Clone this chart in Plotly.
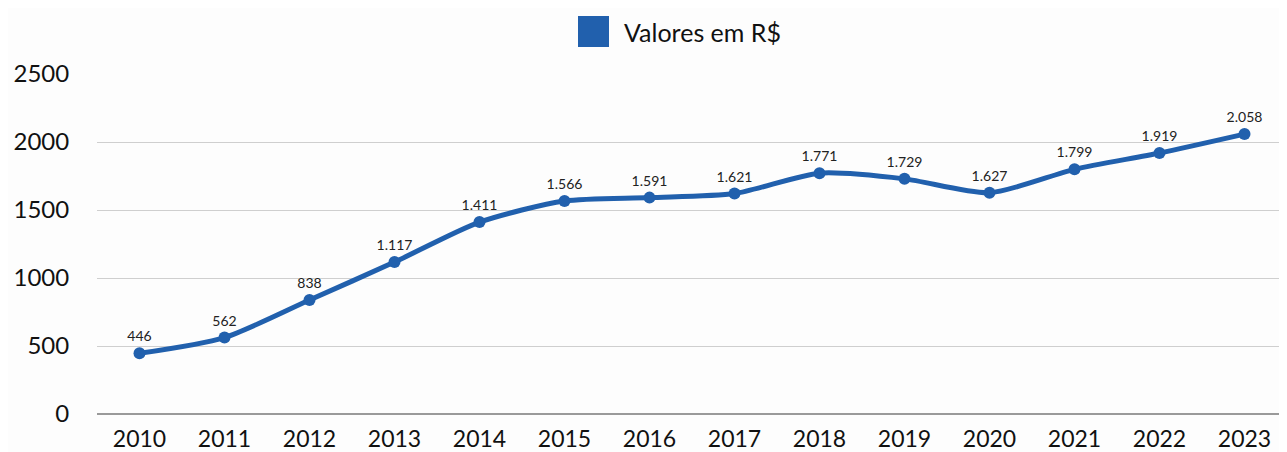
import plotly.graph_objects as go

# ─── Data ────────────────────────────────────────────────────────────
anos = [str(a) for a in range(2010, 2024)]
valores = [446, 562, 838, 1117, 1411, 1566, 1591, 1621, 1771, 1729, 1627, 1799, 1919, 2058]
y_ticks = [0, 500, 1000, 1500, 2000, 2500]

AZUL = "#2160AD"
FONT = "Lato"

rotulos = [f"{v:,}".replace(",", ".") for v in valores]

# page body has an 8px margin, so the figure is offset by (8, 8)
OFF = 8
W, H = 1287 - OFF, 452 - OFF
L, T, B = 97 - OFF, 74 - OFF, 38
PW, PH = W - L, H - T - B

fig = go.Figure()
fig.add_trace(
    go.Scatter(
        x=anos,
        y=valores,
        mode="lines+markers+text",
        name="Valores em R$",
        line=dict(color=AZUL, width=5, shape="spline", smoothing=0.7),
        marker=dict(size=12, color=AZUL),
        text=rotulos,
        textposition="top center",
        textfont=dict(size=14, color="#222222", family=FONT),
        cliponaxis=False,
        showlegend=False,
    )
)

# Legend swatch + label (drawn manually for the large square)
fig.add_shape(
    type="rect", xref="paper", yref="paper",
    x0=(578 - 97) / PW, x1=(609 - 97) / PW,
    y0=(414 - 47) / PH, y1=(414 - 16) / PH,
    line=dict(width=0), fillcolor=AZUL,
)
fig.add_annotation(
    text="Valores em R$", xref="paper", yref="paper",
    x=(622 - 97) / PW, y=(414 - 32) / PH,
    xanchor="left", yanchor="middle", showarrow=False,
    font=dict(size=25, color="#111111", family=FONT),
)

fig.update_layout(
    width=W,
    height=H,
    paper_bgcolor="#FDFDFD",
    plot_bgcolor="#FDFDFD",
    margin=dict(l=L, r=0, t=T, b=B),
    font=dict(family=FONT, color="#111111"),
    showlegend=False,
    xaxis=dict(
        type="category",
        range=[-0.5, len(anos) - 0.5],
        automargin=False,
        showgrid=False,
        showline=False,
        ticks="outside",
        ticklen=4,
        tickcolor="rgba(0,0,0,0)",
        tickfont=dict(size=23, color="#111111"),
        zeroline=False,
    ),
    yaxis=dict(
        range=[0, 2500],
        tickvals=y_ticks,
        automargin=False,
        showgrid=True,
        gridcolor="#CFCFCF",
        gridwidth=1,
        zeroline=True,
        zerolinecolor="#9A9A9A",
        zerolinewidth=1.5,
        ticks="outside",
        ticklen=22,
        tickcolor="rgba(0,0,0,0)",
        tickfont=dict(size=24, color="#111111"),
    ),
)

fig.write_html("out.html")
